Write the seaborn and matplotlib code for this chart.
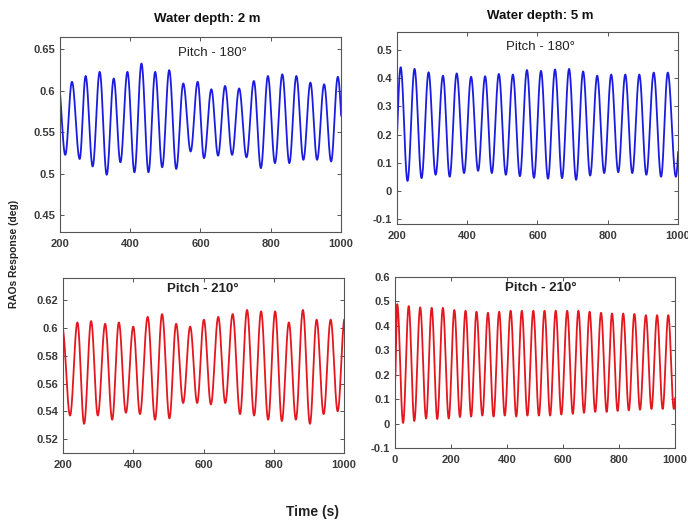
import numpy as np
import pandas as pd
import matplotlib
matplotlib.use("Agg")
import matplotlib.pyplot as plt
from matplotlib.ticker import FuncFormatter
import seaborn as sns

# ---- turning points (time in s, pitch response in deg) ----
# Water depth 2 m, pitch 180 deg
t_2m_180 = [195, 215, 234, 256, 273, 293, 313, 333, 353, 372, 392, 412, 432, 452,
            471, 491, 511, 531, 551, 572, 592, 610, 631, 650, 670, 690, 710, 731,
            752, 772, 792, 812, 833, 853, 873, 893, 913, 932, 952, 972, 991, 1011]
r_2m_180 = [0.610, 0.523, 0.611, 0.518, 0.618, 0.509, 0.623, 0.499, 0.615, 0.514,
            0.623, 0.502, 0.633, 0.502, 0.623, 0.508, 0.625, 0.506, 0.609, 0.527,
            0.611, 0.519, 0.602, 0.522, 0.606, 0.523, 0.603, 0.520, 0.612, 0.507,
            0.618, 0.513, 0.620, 0.513, 0.618, 0.517, 0.610, 0.517, 0.608, 0.515,
            0.617, 0.515]

# Water depth 5 m, pitch 180 deg
t_5m_180 = [192, 210.5, 230, 250, 270, 290, 310, 331, 350, 370, 391, 411, 431, 451,
            470, 490, 510, 530, 550, 570, 590, 610, 630, 650, 670, 690, 710, 730,
            750, 770, 790, 810, 830, 850, 870, 890, 910, 931, 952, 971, 994, 1014]
r_5m_180 = [0.030, 0.439, 0.035, 0.433, 0.045, 0.421, 0.057, 0.409, 0.050, 0.417,
            0.063, 0.405, 0.071, 0.407, 0.063, 0.415, 0.057, 0.413, 0.052, 0.429,
            0.046, 0.426, 0.043, 0.431, 0.045, 0.433, 0.039, 0.424, 0.054, 0.409,
            0.063, 0.413, 0.066, 0.413, 0.063, 0.413, 0.057, 0.420, 0.050, 0.420,
            0.050, 0.420]

# Water depth 2 m, pitch 210 deg
t_2m_210 = [198, 220, 241, 260, 280, 299, 320, 340, 359, 379, 400, 419, 441, 462,
            482, 503, 522, 542, 562, 582, 601, 621, 642, 662, 683, 704, 724, 744,
            764, 784, 804, 823, 843, 863, 883, 903, 922, 942, 962, 982, 1002, 1022]
r_2m_210 = [0.600, 0.537, 0.604, 0.531, 0.605, 0.537, 0.603, 0.534, 0.604, 0.539,
            0.601, 0.538, 0.608, 0.534, 0.610, 0.535, 0.603, 0.546, 0.601, 0.546,
            0.606, 0.545, 0.608, 0.546, 0.610, 0.538, 0.613, 0.537, 0.612, 0.534,
            0.612, 0.533, 0.604, 0.534, 0.613, 0.531, 0.606, 0.538, 0.606, 0.540,
            0.607, 0.540]

# Water depth 5 m, pitch 210 deg
t_5m_210 = [0, 8, 29, 49, 69, 90, 111, 131, 151, 171, 192, 212, 232, 252, 272, 291,
            312, 332, 352, 372, 392, 413, 433, 453, 473, 494, 514, 534, 554, 574,
            594, 615, 635, 655, 675, 695, 715, 736, 756, 775, 795, 815, 835, 855,
            875, 896, 916, 936, 956, 976, 996, 1016]
r_5m_210 = [0.175, 0.489, 0.003, 0.481, 0.011, 0.476, 0.021, 0.474, 0.019, 0.474,
            0.021, 0.465, 0.027, 0.462, 0.029, 0.458, 0.033, 0.454, 0.029, 0.458,
            0.033, 0.462, 0.029, 0.462, 0.033, 0.462, 0.033, 0.462, 0.033, 0.462,
            0.037, 0.462, 0.040, 0.462, 0.044, 0.458, 0.048, 0.454, 0.048, 0.451,
            0.052, 0.451, 0.054, 0.449, 0.057, 0.444, 0.060, 0.444, 0.060, 0.444,
            0.060, 0.440]

titles = ["Water depth: 2 m", "Water depth: 5 m"]
labels = ["Pitch - 180°", "Pitch - 180°", "Pitch - 210°", "Pitch - 210°"]
y_label = "RAOs Response (deg)"
x_label = "Time (s)"


def smooth_wave(times, values, n=40):
    """Join successive turning points with half-cosine swings."""
    ts, vs = [], []
    for i in range(len(times) - 1):
        s = np.linspace(0, 1, n, endpoint=False)
        ts.append(times[i] + (times[i + 1] - times[i]) * s)
        vs.append(values[i] + (values[i + 1] - values[i]) * (1 - np.cos(np.pi * s)) / 2)
    ts.append([times[-1]])
    vs.append([values[-1]])
    return pd.DataFrame({"t": np.concatenate(ts), "r": np.concatenate(vs)})


sns.set_theme(style="white")
plt.rcParams["font.family"] = ["Liberation Sans", "DejaVu Sans"]
plt.rcParams["axes.edgecolor"] = "#555555"
plt.rcParams["axes.linewidth"] = 0.8

fig = plt.figure(figsize=(6.88, 5.21), dpi=100)
fig.patch.set_facecolor("white")

BLUE = "#1c1ce0"
RED = "#e4161e"

panels = [
    dict(rect=[0.0872, 0.5547, 0.4084, 0.3743], t=t_2m_180, r=r_2m_180, color=BLUE,
         xlim=(200, 1000), xticks=[200, 400, 600, 800, 1000],
         ylim=(0.43, 0.665), yticks=[0.45, 0.5, 0.55, 0.6, 0.65],
         label=labels[0], lpos=(0.543, 0.919), bold=False),
    dict(rect=[0.5770, 0.5700, 0.4084, 0.3685], t=t_5m_180, r=r_5m_180, color=BLUE,
         xlim=(200, 1000), xticks=[200, 400, 600, 800, 1000],
         ylim=(-0.118, 0.564), yticks=[-0.1, 0, 0.1, 0.2, 0.3, 0.4, 0.5],
         label=labels[1], lpos=(0.511, 0.923), bold=False),
    dict(rect=[0.0916, 0.1305, 0.4084, 0.3359], t=t_2m_210, r=r_2m_210, color=RED,
         xlim=(200, 1000), xticks=[200, 400, 600, 800, 1000],
         ylim=(0.51, 0.636), yticks=[0.52, 0.54, 0.56, 0.58, 0.6, 0.62],
         label=labels[2], lpos=(0.498, 0.935), bold=True),
    dict(rect=[0.5741, 0.1400, 0.4070, 0.3282], t=t_5m_210, r=r_5m_210, color=RED,
         xlim=(0, 1000), xticks=[0, 200, 400, 600, 800, 1000],
         ylim=(-0.1, 0.6), yticks=[-0.1, 0, 0.1, 0.2, 0.3, 0.4, 0.5, 0.6],
         label=labels[3], lpos=(0.521, 0.937), bold=True),
]

fmt = FuncFormatter(lambda v, _: f"{v:g}")

axes = []
for p in panels:
    ax = fig.add_axes(p["rect"])
    df = smooth_wave(p["t"], p["r"])
    sns.lineplot(data=df, x="t", y="r", ax=ax, color=p["color"], linewidth=1.3,
                 estimator=None, sort=False)
    ax.set_xlim(*p["xlim"])
    ax.set_ylim(*p["ylim"])
    ax.set_xticks(p["xticks"])
    ax.set_yticks(p["yticks"])
    ax.xaxis.set_major_formatter(fmt)
    ax.yaxis.set_major_formatter(fmt)
    ax.tick_params(direction="in", length=3, width=0.7, color="#555555",
                   top=True, right=True, bottom=True, left=True,
                   labelsize=8, labelcolor="#3a3a3a")
    ax.tick_params(axis="x", pad=5)
    ax.tick_params(axis="y", pad=3.5)
    for lab in ax.get_xticklabels() + ax.get_yticklabels():
        lab.set_fontweight("bold")
    ax.set_xlabel("")
    ax.set_ylabel("")
    for sp in ax.spines.values():
        sp.set_visible(True)
    ax.text(p["lpos"][0], p["lpos"][1], p["label"], transform=ax.transAxes,
            ha="center", va="center", fontsize=9.5, color="#222222",
            fontweight="bold" if p["bold"] else "normal")
    axes.append(ax)

fig.text(207 / 688, 1 - 19 / 521, titles[0], ha="center", va="center",
         fontsize=9.5, fontweight="bold", color="#111111")
fig.text(540 / 688, 1 - 16 / 521, titles[1], ha="center", va="center",
         fontsize=9.5, fontweight="bold", color="#111111")
fig.text(14 / 688, 1 - 254 / 521, y_label, rotation=90, ha="center", va="center",
         fontsize=7.4, fontweight="bold", color="#222222")
fig.text(313 / 688, 1 - 512 / 521, x_label, ha="center", va="center",
         fontsize=10, fontweight="bold", color="#222222")

fig.savefig("out.png", dpi=100, facecolor="white")
